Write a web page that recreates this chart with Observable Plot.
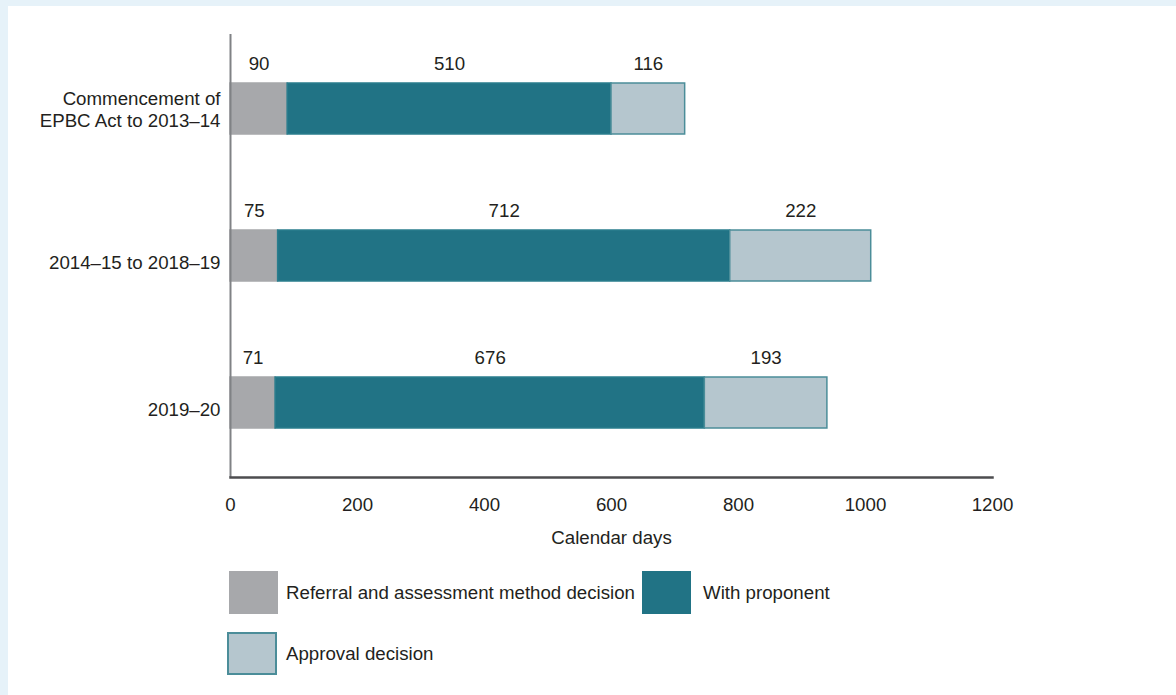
<!DOCTYPE html>
<html><head><meta charset="utf-8">
<script src="https://cdn.jsdelivr.net/npm/d3@7"></script>
<script src="https://cdn.jsdelivr.net/npm/@observablehq/plot@0.6"></script>
<style>
body{margin:0;background:#e6f2f9;width:1176px;height:695px;overflow:hidden;font-family:Arial,"Liberation Sans",sans-serif;}
#panel{position:absolute;left:8px;top:6px;width:1168px;height:689px;background:#fff;}
#chart{position:absolute;left:0;top:0;}
.sw{position:absolute;box-sizing:border-box;}
.lt{position:absolute;font-size:18.7px;color:#231f20;line-height:22px;white-space:nowrap;}
</style></head>
<body><div id="panel"><div id="chart"></div><div id="legend"></div></div>
<script>
const periods = ["Commencement of\nEPBC Act to 2013–14", "2014–15 to 2018–19", "2019–20"];
const categories = ["Referral and assessment method decision", "With proponent", "Approval decision"];
const referral = [90, 75, 71];
const proponent = [510, 712, 676];
const approval = [116, 222, 193];
const xTicks = [0, 200, 400, 600, 800, 1000, 1200];
const fills = ["#a7a8ab", "#217385", "#b5c6ce"];
const strokes = ["#a7a8ab", "#2a7d8d", "#4b8d99"];

const series = [referral, proponent, approval];
const data = [];
periods.forEach((p, i) => {
  categories.forEach((c, j) => {
    data.push({period: p, category: c, value: series[j][i], stroke: strokes[j]});
  });
});

const FS = 18.7;
const chart = Plot.plot({
  width: 1168,
  height: 555,
  marginLeft: 222,
  marginRight: 184,
  marginTop: 28,
  marginBottom: 84,
  style: {fontFamily: "Arial, 'Liberation Sans', sans-serif", fontSize: FS + "px", color: "#231f20", background: "transparent"},
  x: {domain: [0, 1200], ticks: xTicks},
  y: {domain: periods, paddingInner: 0.65, paddingOuter: 0.325},
  color: {domain: categories, range: fills},
  marks: [
    Plot.barX(data, Plot.stackX({x: "value", y: "period", fill: "category", stroke: "stroke", strokeWidth: 1.5, order: null})),
    Plot.text(data, Plot.stackX({x: "value", y: "period", text: d => String(d.value), dy: -45, fill: "#231f20", fontSize: FS, order: null})),
    Plot.axisX({ticks: xTicks, tickFormat: d3.format("d"), tickSize: 0, tickPadding: 20, label: "Calendar days", labelAnchor: "center", labelArrow: "none", labelOffset: 66, fontSize: FS}),
    Plot.axisY({ticks: periods.slice(0, 1), tickSize: 0, tickPadding: 10, label: null, lineHeight: 1.18, fontSize: FS}),
    Plot.axisY({ticks: periods.slice(1), tickSize: 0, tickPadding: 10, label: null, dy: 7, fontSize: FS}),
    Plot.ruleX([0], {stroke: "#808285", strokeWidth: 2}),
    Plot.frame({anchor: "bottom", stroke: "#4d4d4f", strokeWidth: 2.5})
  ]
});
document.getElementById("chart").appendChild(chart);

const legendItems = [
  {i: 0, sx: 221, sy: 565, w: 49, h: 43, tx: 278},
  {i: 1, sx: 634, sy: 565, w: 49, h: 43, tx: 695},
  {i: 2, sx: 219, sy: 626, w: 50, h: 43, tx: 278}
];
const legend = document.getElementById("legend");
legendItems.forEach(it => {
  const s = document.createElement("div");
  s.className = "sw";
  s.style.cssText = `left:${it.sx}px;top:${it.sy}px;width:${it.w}px;height:${it.h}px;background:${fills[it.i]};` +
    (it.i === 2 ? `border:2px solid ${strokes[2]};` : "");
  legend.appendChild(s);
  const t = document.createElement("div");
  t.className = "lt";
  t.style.left = it.tx + "px";
  t.style.top = (it.sy + it.h / 2 - 11) + "px";
  t.textContent = categories[it.i];
  legend.appendChild(t);
});
</script>
</body></html>
